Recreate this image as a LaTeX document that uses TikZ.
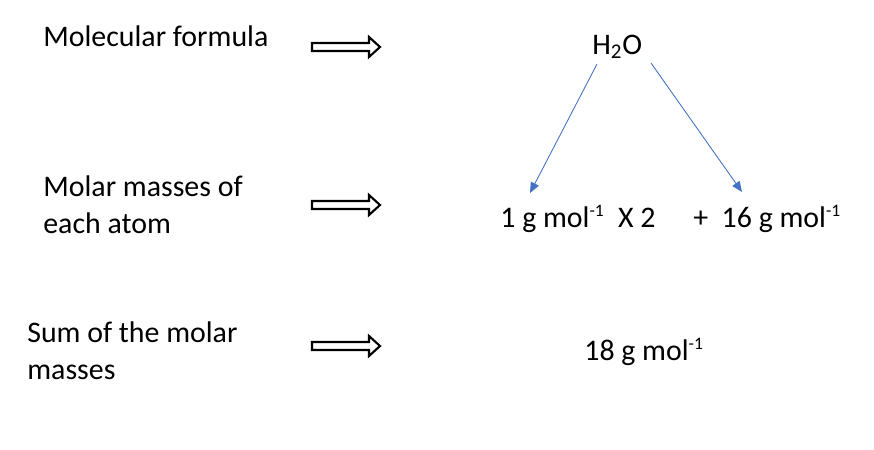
\documentclass[tikz,border=0pt]{standalone}
\usepackage{fontspec}
\setmainfont{Carlito}
\usetikzlibrary{arrows.meta}

\definecolor{linkblue}{RGB}{68,114,196}

\tikzset{
    label text/.style={anchor=west, align=left, inner sep=0pt,
        font=\fontsize{17}{21}\selectfont},
    mass text/.style={anchor=west, inner sep=0pt,
        font=\fontsize{17}{21}\selectfont},
    link/.style={linkblue, line width=0.5pt,
        -{Triangle[width=5pt, length=6pt]}},
    fat arrow/.style={draw=black, line width=1.2pt, fill=white}
}
\newcommand{\perunit}{\textsuperscript{\fontsize{10}{10}\selectfont -1}}

\begin{document}
\begin{tikzpicture}[x=0.02cm, y=-0.02cm]
        \useasboundingbox (0,0) rectangle (874,449);
        % left column
        \node[label text] (formula) at (43,36)  {Molecular formula};
        \node[label text] (masses)  at (43,205) {Molar masses of\\each atom};
        \node[label text] (sum)     at (27,351) {Sum of the molar\\masses};
        % block arrows
        \foreach \y in {47, 205, 346} {
            \draw[fat arrow] (312,\y-4) -- (369,\y-4) -- (369,\y-10)
                -- (380,\y) -- (369,\y+10) -- (369,\y+4)
                -- (312,\y+4) -- cycle;
        }
        % right column
        \node[mass text] (water) at (592,47)  {H\textsubscript{2}O};
        \node[mass text] (hydro) at (500,219) {1 g mol\perunit\ \ X 2};
        \node[mass text] (oxy)   at (693,219) {+\ \ 16 g mol\perunit};
        \node[mass text] (total) at (584,352) {18 g mol\perunit};
        \coordinate (wl) at (597,64);
        \coordinate (wr) at (651,63);
        \coordinate (hl) at (530,193);
        \coordinate (ol) at (742,192);
        \draw[link] (wl) -- (hl);
        \draw[link] (wr) -- (ol);
\end{tikzpicture}
\end{document}
